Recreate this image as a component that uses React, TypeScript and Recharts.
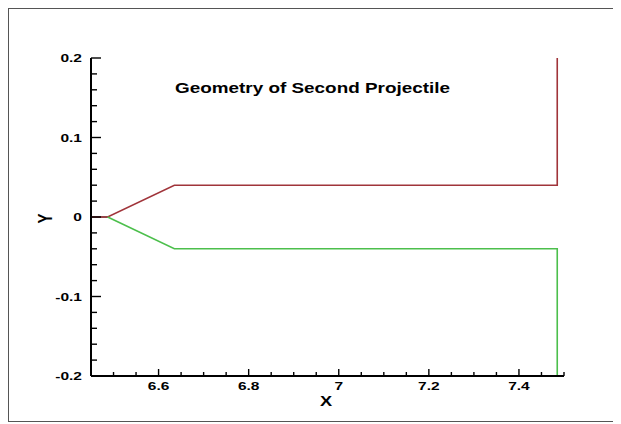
import React from "react";
import { LineChart, Line, XAxis, YAxis, Customized } from "recharts";

const upperContour = [
  { x: 6.45, y: 0 },
  { x: 6.487, y: 0 },
  { x: 6.635, y: 0.04 },
  { x: 7.485, y: 0.04 },
  { x: 7.485, y: 0.2 },
];
const lowerContour = [
  { x: 6.487, y: 0 },
  { x: 6.635, y: -0.04 },
  { x: 7.485, y: -0.04 },
  { x: 7.485, y: -0.2 },
];
const noseTip = [
  { x: 6.45, y: 0 },
  { x: 6.487, y: 0 },
];

const xTicks = [6.5, 6.55, 6.6, 6.65, 6.7, 6.75, 6.8, 6.85, 6.9, 6.95, 7, 7.05, 7.1, 7.15, 7.2, 7.25, 7.3, 7.35, 7.4, 7.45, 7.5];
const xLabels = [6.6, 6.8, 7, 7.2, 7.4];
const yTicks = [-0.2, -0.18, -0.16, -0.14, -0.12, -0.1, -0.08, -0.06, -0.04, -0.02, 0, 0.02, 0.04, 0.06, 0.08, 0.1, 0.12, 0.14, 0.16, 0.18, 0.2];
const yLabels = [-0.2, -0.1, 0, 0.1, 0.2];

const title = "Geometry of Second Projectile";
const xTitle = "X";
const yTitle = "Y";

const FONT = "'Liberation Sans', Arial, sans-serif";
const SX = 1.35;

const isMajor = (v: number, list: number[]) => list.some((l) => Math.abs(l - v) < 1e-6);

const XTick = (props: any) => {
  const { x, y, payload } = props;
  const v = payload.value;
  const major = isMajor(v, xLabels);
  return (
    <g>
      <line x1={x} x2={x} y1={y} y2={y - (major ? 7 : 4)} stroke="#000" strokeWidth={1.4} />
      {major && (
        <text
          transform={`translate(${x},${y + 13.5}) scale(${SX},1)`}
          textAnchor="middle"
          fontFamily={FONT}
          fontWeight="bold"
          fontSize={11.5}
          fill="#000"
        >
          {String(v)}
        </text>
      )}
    </g>
  );
};

const YTick = (props: any) => {
  const { x, y, payload } = props;
  const v = payload.value;
  const major = isMajor(v, yLabels);
  return (
    <g>
      <line x1={x} x2={x + (major ? 10 : 6)} y1={y} y2={y} stroke="#000" strokeWidth={1.4} />
      {major && (
        <text
          transform={`translate(${x - 9},${y + 4}) scale(${SX},1)`}
          textAnchor="end"
          fontFamily={FONT}
          fontWeight="bold"
          fontSize={11.5}
          fill="#000"
        >
          {String(v)}
        </text>
      )}
    </g>
  );
};

const Titles = () => (
  <g>
    <text
      transform={`translate(303.5,84) scale(${SX},1)`}
      textAnchor="middle"
      fontFamily={FONT}
      fontWeight="bold"
      fontSize={14}
      fill="#000"
    >
      {title}
    </text>
    <text
      transform={`translate(317,397) scale(1.3,1)`}
      textAnchor="middle"
      fontFamily={FONT}
      fontWeight="bold"
      fontSize={14}
      fill="#000"
    >
      {xTitle}
    </text>
    <text
      transform={`translate(43,209.5) scale(1.35,1) rotate(-90)`}
      textAnchor="middle"
      fontFamily={FONT}
      fontWeight="bold"
      fontSize={15}
      fill="#000"
    >
      {yTitle}
    </text>
  </g>
);

export default function App() {
  return (
    <div
      style={{
        width: 605,
        height: 412,
        border: "1px solid #555",
        background: "#fff",
      }}
    >
      <LineChart width={605} height={412} margin={{ top: 49, right: 50, left: 0, bottom: 15 }}>
        <XAxis
          type="number"
          dataKey="x"
          domain={[6.45, 7.5]}
          ticks={xTicks}
          interval={0}
          allowDataOverflow
          tickLine={false}
          tickSize={0}
          tickMargin={0}
          axisLine={{ stroke: "#000", strokeWidth: 2 }}
          tick={<XTick />}
          height={30}
        />
        <YAxis
          type="number"
          dataKey="y"
          domain={[-0.2, 0.2]}
          ticks={yTicks}
          interval={0}
          allowDataOverflow
          tickLine={false}
          tickSize={0}
          tickMargin={0}
          axisLine={{ stroke: "#000", strokeWidth: 2 }}
          tick={<YTick />}
          width={82}
        />
        <Line
          data={noseTip}
          dataKey="y"
          type="linear"
          stroke="#555"
          strokeWidth={1.6}
          dot={false}
          isAnimationActive={false}
        />
        <Line
          data={upperContour}
          dataKey="y"
          type="linear"
          stroke="#a0343a"
          strokeWidth={1.6}
          dot={false}
          isAnimationActive={false}
        />
        <Line
          data={lowerContour}
          dataKey="y"
          type="linear"
          stroke="#4cbf4c"
          strokeWidth={1.6}
          dot={false}
          isAnimationActive={false}
        />
        <Customized component={Titles} />
      </LineChart>
    </div>
  );
}
